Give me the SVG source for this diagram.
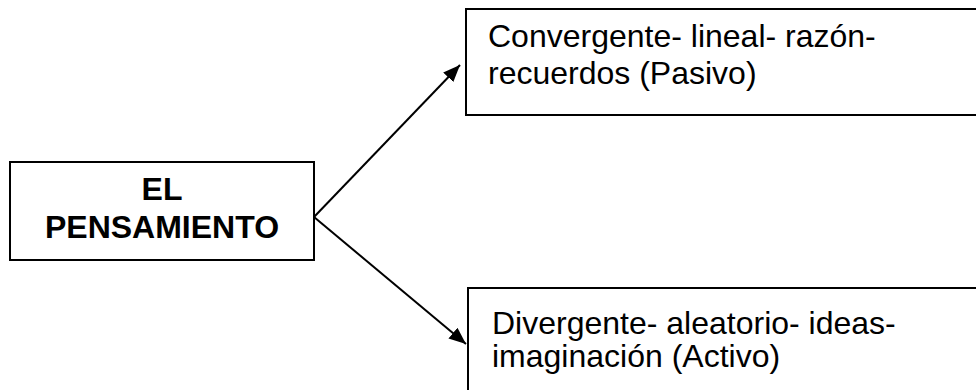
<svg xmlns="http://www.w3.org/2000/svg" width="976" height="390" viewBox="0 0 976 390">
<style>
  .box { fill: #ffffff; stroke: #000000; stroke-width: 2; }
  .t { font-family: "Liberation Sans", Arial, sans-serif; font-size: 32px; fill: #000000; }
  .b { font-weight: bold; text-anchor: middle; }
  .conn { stroke: #000000; stroke-width: 2; fill: none; marker-end: url(#arrow); }
</style>
<defs>
  <marker id="arrow" markerUnits="userSpaceOnUse" markerWidth="18" markerHeight="14" refX="17" refY="7" orient="auto">
    <path d="M0,0 L17,7 L0,14 z" fill="#000000"/>
  </marker>
</defs>
<rect width="976" height="390" fill="#ffffff"/>
<g id="node-pensamiento">
  <rect class="box" x="10" y="162" width="304" height="98"/>
  <text class="t b" x="162" y="200">EL</text>
  <text class="t b" x="162" y="238">PENSAMIENTO</text>
</g>
<g id="node-convergente">
  <rect class="box" x="466" y="9" width="520" height="106"/>
  <text class="t" x="488" y="47">Convergente- lineal- razón-</text>
  <text class="t" x="488" y="84">recuerdos (Pasivo)</text>
</g>
<g id="node-divergente">
  <rect class="box" x="468" y="288" width="520" height="112"/>
  <text class="t" x="492" y="334">Divergente- aleatorio- ideas-</text>
  <text class="t" x="492" y="367">imaginación (Activo)</text>
</g>
<g id="connectors">
  <line class="conn" x1="314" y1="217" x2="460" y2="65"/>
  <line class="conn" x1="314" y1="217" x2="466" y2="344"/>
</g>
</svg>
